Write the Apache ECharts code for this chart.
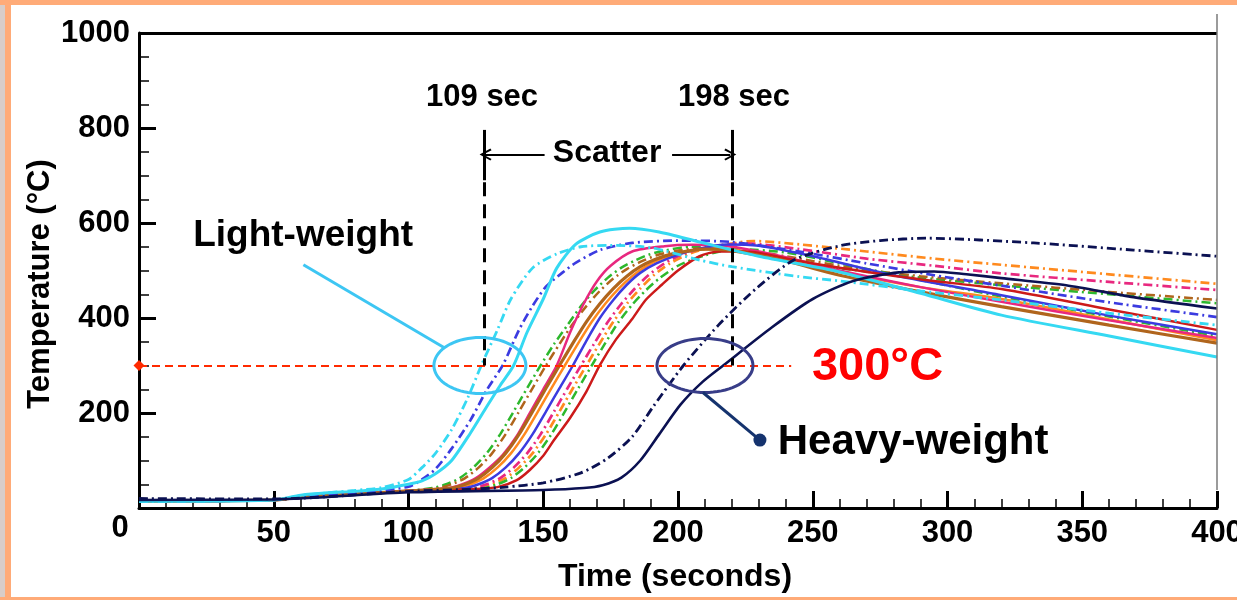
<!DOCTYPE html>
<html>
<head>
<meta charset="utf-8">
<script src="https://cdn.jsdelivr.net/npm/echarts@6/dist/echarts.min.js"></script>
<style>
  html, body { margin: 0; padding: 0; background: #ffffff; }
  #chart { width: 1237px; height: 600px; }
</style>
</head>
<body>
<div id="chart"></div>
<script>
// Heating curves: [time (s), temperature (°C)]
const cyanSolid = [[0,14],[50,17],[60,27],[70,32],[80,35],[90,40],[100,50],[105,57],[110,72],[116,100],[123,158],[129,213],[134,258],[139,300],[144,370],[150,440],[155,505],[162,555],[171,581],[182,589],[193,581],[208,560],[230,530],[260,497],[290,452],[320,406],[360,362],[400,318]];
const cyanDashDot = [[0,14],[50,17],[60,26],[70,32],[80,37],[90,43],[100,60],[105,85],[110,115],[116,165],[122,232],[127,300],[133,375],[138,440],[146,505],[155,535],[164,550],[175,553],[190,548],[208,522],[220,508],[245,487],[260,478],[290,457],[320,438],[360,410],[400,385]];
const blueDashDot = [[0,14],[50,17],[60,24],[80,30],[100,45],[105,60],[110,82],[116,125],[123,185],[129,248],[135,301],[141,375],[146,425],[151,466],[157,495],[162,516],[171,543],[183,558],[200,563],[220,560],[245,540],[270,515],[295,490],[320,468],[360,433],[400,402]];
const greenDashDotA = [[0,14],[50,17],[60,23],[80,29],[100,36],[109,42],[114,50],[119,63],[124,85],[129,115],[134,155],[139,203],[144,252],[149,300],[154,345],[159,385],[164,425],[169,458],[174,485],[179,506],[184,521],[189,533],[195,542],[205,550],[220,545],[240,525],[260,505],[290,485],[320,469],[360,450],[400,431]];
const brownDashDot = [[0,14],[50,17],[60,23],[80,29],[100,36],[111,42],[116,50],[121,63],[126,85],[131,115],[136,155],[141,203],[146,252],[151,300],[156,345],[161,388],[166,425],[171,457],[176,483],[181,503],[186,518],[192,532],[200,542],[210,547],[225,543],[245,525],[265,505],[290,488],[320,473],[360,455],[400,438]];
const brownSolid = [[0,14],[50,17],[60,23],[80,29],[100,36],[116,42],[121,50],[126,63],[131,85],[136,115],[141,155],[146,203],[151,252],[156,300],[161,347],[166,392],[171,430],[176,462],[181,488],[186,508],[191,522],[198,535],[210,545],[220,542],[240,520],[260,490],[290,455],[320,424],[360,385],[400,347]];
const pinkSolid = [[0,14],[50,17],[60,23],[80,29],[100,36],[115,42],[120,50],[125,63],[130,85],[135,112],[140,150],[145,200],[150,250],[155,300],[160,370],[165,430],[170,478],[175,510],[183,540],[195,551],[205,554],[220,550],[240,528],[260,500],[290,465],[320,434],[360,395],[400,358]];
const orangeSolid = [[0,14],[50,17],[60,23],[80,29],[100,36],[118,42],[123,50],[128,63],[133,85],[138,115],[143,155],[148,203],[153,252],[158,300],[163,347],[168,392],[173,430],[178,462],[183,488],[188,508],[194,525],[202,538],[212,546],[222,543],[240,522],[260,497],[290,465],[320,440],[360,397],[400,353]];
const blueSolid = [[0,14],[50,17],[60,23],[80,29],[100,36],[121,42],[126,50],[131,63],[136,85],[141,115],[146,155],[151,203],[156,252],[161,300],[166,352],[171,400],[176,438],[181,470],[186,495],[192,515],[200,533],[208,546],[218,555],[230,552],[250,530],[280,490],[320,448],[360,405],[400,366]];
const pinkDashDot = [[0,14],[50,17],[60,23],[80,29],[100,36],[124,42],[129,50],[134,63],[139,85],[144,115],[149,155],[154,203],[159,252],[164,300],[169,347],[174,392],[179,430],[184,462],[189,490],[195,515],[202,535],[212,550],[225,557],[245,545],[270,525],[295,510],[320,494],[360,476],[400,459]];
const orangeDashDot = [[0,14],[50,17],[60,23],[80,29],[100,36],[126,42],[131,50],[136,63],[141,85],[146,115],[151,155],[156,203],[161,252],[166,300],[171,347],[176,392],[181,430],[186,462],[191,490],[197,515],[205,537],[215,552],[228,562],[245,555],[270,540],[295,525],[320,512],[360,492],[400,472]];
const greenDashDotB = [[0,14],[50,17],[60,23],[80,29],[100,36],[128,42],[133,50],[138,63],[143,85],[148,115],[153,155],[158,203],[163,252],[168,300],[173,347],[178,392],[183,428],[188,458],[193,483],[200,510],[210,532],[222,545],[240,538],[260,515],[290,480],[320,445],[360,403],[400,362]];
const redSolid = [[0,14],[50,17],[60,23],[80,29],[100,36],[125,40],[133,44],[140,58],[145,80],[150,110],[154,143],[160,190],[166,245],[171,301],[177,355],[183,398],[188,438],[194,470],[200,500],[208,530],[215,540],[225,540],[245,520],[270,497],[295,478],[320,461],[360,418],[400,375]];
const navyDashDot = [[0,20],[50,19],[100,35],[125,40],[136,44],[150,53],[164,74],[174,105],[183,150],[191,215],[202,300],[215,385],[229,462],[243,522],[260,552],[275,563],[292,568],[332,558],[369,543],[400,530]];
const navySolid = [[0,17],[50,18],[100,33],[150,38],[165,42],[172,48],[179,64],[186,100],[193,155],[201,218],[209,265],[217,301],[235,381],[250,440],[265,478],[282,496],[295,498],[307,492],[320,484],[344,469],[369,444],[400,420]];

// Axis ranges and tick steps
const xRange = [0, 400];
const xStep = 50;
const yRange = [0, 1000];
const yStep = 200;

// Annotation values
const thresholdTemp = 300;
const thresholdEnd = 242;
const scatterStart = 128;
const scatterEnd = 220;
const scatterStartLabel = '109 sec';
const scatterEndLabel = '198 sec';

const C = {
  cyan: '#35D9F2', blue: '#3B3BE0', green: '#2DB82D', brown: '#B0651C',
  orange: '#FF8A1E', pink: '#E8287F', red: '#CC1A1A', navy: '#0B1152'
};
const DASH_DOT = [9, 4, 2, 4];

function curve(name, data, color, dashed, width, z) {
  return {
    type: 'line', name: name, data: data, symbol: 'none', smooth: 0.25,
    silent: true, z: z || 2,
    lineStyle: { color: color, width: width || 2.5, type: dashed ? DASH_DOT : 'solid' }
  };
}

const FONT = '"Liberation Sans", Arial, sans-serif';

const chart = echarts.init(document.getElementById('chart'), null, { renderer: 'canvas' });

const option = {
  animation: false,
  backgroundColor: '#ffffff',
  grid: { left: 139, right: 20, top: 33, bottom: 92, containLabel: false, outerBoundsMode: 'none' },
  xAxis: {
    type: 'value', min: xRange[0], max: xRange[1], interval: xStep,
    axisLine: { lineStyle: { color: '#000', width: 3 } },
    axisTick: { inside: true, length: 17, lineStyle: { color: '#000', width: 3 } },
    minorTick: { show: true, splitNumber: 5, length: 9, lineStyle: { color: '#000', width: 1.5 } },
    splitLine: { show: false },
    axisLabel: {
      margin: 10, color: '#000', fontFamily: FONT, fontWeight: 'bold', fontSize: 31,
      formatter: v => (v === 0 ? '' : String(v))
    }
  },
  yAxis: {
    type: 'value', min: yRange[0], max: yRange[1], interval: yStep,
    axisLine: { lineStyle: { color: '#000', width: 3 } },
    axisTick: { inside: true, length: 17, lineStyle: { color: '#000', width: 3 } },
    minorTick: { show: true, splitNumber: 4, length: 10, lineStyle: { color: '#000', width: 1.5 } },
    splitLine: { show: false },
    axisLabel: {
      margin: 9, color: '#000', fontFamily: FONT, fontWeight: 'bold', fontSize: 31,
      formatter: v => (v === 0 ? '' : String(v))
    }
  },
  series: [
    curve('green-dd-a', greenDashDotA, C.green, true),
    curve('brown-dd', brownDashDot, C.brown, true),
    curve('orange-dd', orangeDashDot, C.orange, true, 2.7),
    curve('pink-dd', pinkDashDot, C.pink, true, 2.7),
    curve('green-dd-b', greenDashDotB, C.green, true),
    curve('orange', orangeSolid, C.orange, false),
    curve('pink', pinkSolid, C.pink, false),
    curve('blue', blueSolid, C.blue, false),
    curve('red', redSolid, C.red, false),
    curve('brown', brownSolid, C.brown, false, 3.2),
    curve('blue-dd', blueDashDot, C.blue, true, 2.7, 3),
    curve('cyan-dd', cyanDashDot, C.cyan, true, 2.8, 3),
    curve('cyan', cyanSolid, C.cyan, false, 3, 4),
    curve('navy-dd', navyDashDot, C.navy, true, 2.8, 4),
    curve('navy', navySolid, C.navy, false, 2.6, 4),
    {
      type: 'line', name: 'annotations', data: [], silent: true, z: 5,
      markLine: {
        silent: true, animation: false, label: { show: false },
        data: [
          // frame line along the top of the plot
          [{ coord: [6, yRange[1]], symbol: 'none' }, { coord: [xRange[1], yRange[1]], symbol: 'none',
            lineStyle: { color: '#000', width: 3, type: 'solid' } }],
          // 300 °C reference line
          [{ coord: [0, thresholdTemp], symbol: 'diamond', symbolSize: 11 },
           { coord: [thresholdEnd, thresholdTemp], symbol: 'none',
             lineStyle: { color: '#FF2A00', width: 2, type: [8, 5] }, itemStyle: { color: '#FF2A00' } }],
          // scatter bracket, solid upper part
          [{ coord: [scatterStart, 796], symbol: 'none' }, { coord: [scatterStart, 690], symbol: 'none',
            lineStyle: { color: '#000', width: 3, type: 'solid' } }],
          [{ coord: [scatterEnd, 796], symbol: 'none' }, { coord: [scatterEnd, 690], symbol: 'none',
            lineStyle: { color: '#000', width: 3, type: 'solid' } }],
          // dashed drop lines down to 300 °C
          [{ coord: [scatterStart, 686], symbol: 'none' }, { coord: [scatterStart, thresholdTemp], symbol: 'none',
            lineStyle: { color: '#000', width: 3, type: [14, 8] } }],
          [{ coord: [scatterEnd, 686], symbol: 'none' }, { coord: [scatterEnd, thresholdTemp], symbol: 'none',
            lineStyle: { color: '#000', width: 3, type: [14, 8] } }],
          // scatter arrows
          [{ coord: [150.5, 744], symbol: 'none' },
           { coord: [scatterStart + 0.6, 744], symbol: 'path://M5,0 L10,9 L8.6,10 L5,3 L1.4,10 L0,9 Z', symbolSize: [12, 12],
             lineStyle: { color: '#000', width: 2, type: 'solid' }, itemStyle: { color: '#000' } }],
          [{ coord: [197.8, 744], symbol: 'none' },
           { coord: [scatterEnd - 0.6, 744], symbol: 'path://M5,0 L10,9 L8.6,10 L5,3 L1.4,10 L0,9 Z', symbolSize: [12, 12],
             lineStyle: { color: '#000', width: 2, type: 'solid' }, itemStyle: { color: '#000' } }]
        ]
      }
    }
  ]
};

chart.setOption(option);

// Annotation overlay positioned from data coordinates
function px(t, T) { return chart.convertToPixel({ gridIndex: 0 }, [t, T]); }
function ellipsePoints(c, rx, ry) {
  const pts = [];
  for (let i = 0; i < 72; i++) {
    const a = (i / 72) * Math.PI * 2;
    pts.push([c[0] + rx * Math.cos(a), c[1] + ry * Math.sin(a)]);
  }
  return pts;
}
function label(text, pos, size, color, align, extra) {
  return Object.assign({
    type: 'text', x: pos[0], y: pos[1], silent: true, z: 20,
    style: { text: text, fill: color || '#000', font: 'bold ' + size + 'px ' + FONT,
             textAlign: align || 'center', textVerticalAlign: 'middle' }
  }, extra || {});
}

const lightCenter = px(126.5, thresholdTemp);
const heavyCenter = px(210, thresholdTemp);
const origin = px(0, 0);
const topRight = px(xRange[1], yRange[1]);

const graphics = [
  // page frame
  { type: 'rect', silent: true, z: 30, shape: { x: 0, y: 0, width: 5, height: 600 }, style: { fill: '#D8CDC9' } },
  { type: 'rect', silent: true, z: 30, shape: { x: 5, y: 0, width: 6, height: 600 }, style: { fill: '#FFAB78' } },
  { type: 'rect', silent: true, z: 30, shape: { x: 0, y: 0, width: 1237, height: 5 }, style: { fill: '#FFAB78' } },
  { type: 'rect', silent: true, z: 30, shape: { x: 0, y: 597, width: 1237, height: 3 }, style: { fill: '#FFAB78' } },
  // right edge of the plot frame
  { type: 'line', silent: true, z: 10, shape: { x1: topRight[0], y1: 14, x2: topRight[0], y2: origin[1] - 18 },
    style: { stroke: '#7a7a7a', lineWidth: 1.5 } },
  // light-weight callout
  { type: 'polygon', silent: true, z: 12, shape: { points: ellipsePoints(lightCenter, 46, 28) },
    style: { fill: 'none', stroke: '#3DC6F3', lineWidth: 3 } },
  { type: 'line', silent: true, z: 12, shape: { x1: px(61, 512)[0], y1: px(61, 512)[1], x2: lightCenter[0] - 36, y2: lightCenter[1] - 18 },
    style: { stroke: '#3DC6F3', lineWidth: 3 } },
  label('Light-weight', px(60.9, 573), 37),
  // heavy-weight callout
  { type: 'polygon', silent: true, z: 12, shape: { points: ellipsePoints(heavyCenter, 48, 27) },
    style: { fill: 'none', stroke: '#383D88', lineWidth: 3 } },
  { type: 'line', silent: true, z: 12, shape: { x1: heavyCenter[0] - 2, y1: heavyCenter[1] + 27, x2: px(230.4, 143)[0], y2: px(230.4, 143)[1] },
    style: { stroke: '#15336E', lineWidth: 3 } },
  { type: 'circle', silent: true, z: 12, shape: { cx: px(230.4, 143)[0], cy: px(230.4, 143)[1], r: 6.5 }, style: { fill: '#15336E' } },
  label('Heavy-weight', px(237, 139), 42, '#000', 'left'),
  // threshold label
  label('300°C', px(249.7, 296), 47, '#FF0000', 'left'),
  // scatter window labels
  label(scatterStartLabel, px(127.3, 865), 31),
  label(scatterEndLabel, px(220.8, 865), 31),
  label('Scatter', px(173.7, 747), 32),
  // axis titles and shared origin label
  label('0', [origin[0] - 19, origin[1] + 20], 31),
  label('Time (seconds)', [px(200, 0)[0] - 3, 577], 32),
  label('Temperature (°C)', [40, 284], 31, '#000', 'center', { rotation: Math.PI / 2 })
];

chart.setOption({ graphic: graphics });
</script>
</body>
</html>
